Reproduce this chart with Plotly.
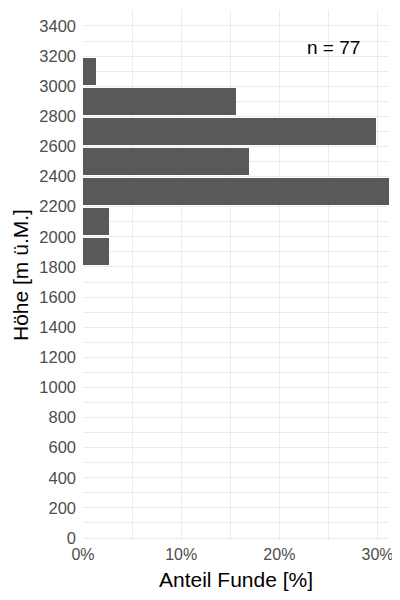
import plotly.graph_objects as go

# Höhenklassen (Klassenmitte, m ü.M.) und Anzahl Funde je Klasse
bin_centers = [1900, 2100, 2300, 2500, 2700, 2900, 3100]
counts = [2, 2, 24, 13, 23, 12, 1]
n_total = 77

y_ticks = list(range(0, 3401, 200))
x_ticks = [0, 10, 20, 30]
x_tick_labels = ["0%", "10%", "20%", "30%"]

share = [c / n_total * 100 for c in counts]

GRID = "#EBEBEB"
TICK_TXT = "#4D4D4D"

fig = go.Figure()
fig.add_trace(go.Bar(
    x=share,
    y=bin_centers,
    orientation="h",
    width=180,
    marker=dict(color="#595959", line=dict(width=0)),
    hovertemplate="%{y} m: %{x:.1f}%<extra></extra>",
))

fig.add_annotation(
    x=25.5, y=3255, text=f"n = {n_total}", showarrow=False,
    font=dict(size=19, color="black"),
)

# Achsentitel als Annotationen, damit die Ränder fix bleiben
fig.add_annotation(
    xref="paper", yref="paper", x=0.5, y=0, yshift=-39,
    text="Anteil Funde [%]", showarrow=False,
    font=dict(size=21, color="black"), yanchor="middle",
)
fig.add_annotation(
    xref="paper", yref="paper", x=0, y=0.5, xshift=-63,
    text="Höhe [m ü.M.]", showarrow=False, textangle=-90,
    font=dict(size=21, color="black"), xanchor="center",
)

# page body adds an 8px offset, margins compensate for it
fig.update_layout(
    width=400,
    height=600,
    margin=dict(l=75, r=19, t=2, b=68),
    plot_bgcolor="white",
    paper_bgcolor="white",
    showlegend=False,
    font=dict(family="Liberation Sans, Arial, sans-serif"),
    bargap=0,
)

fig.update_xaxes(
    range=[0, max(share)],
    tickvals=x_ticks,
    ticktext=x_tick_labels,
    tickfont=dict(size=16, color=TICK_TXT),
    ticklabelstandoff=3,
    showgrid=True, gridcolor=GRID, gridwidth=1.3,
    minor=dict(showgrid=True, dtick=5, gridcolor=GRID, gridwidth=0.7),
    zeroline=False,
    showline=False,
    ticks="",
    automargin=False,
)

fig.update_yaxes(
    range=[-13, 3506],
    tickvals=y_ticks,
    tickfont=dict(size=16.5, color=TICK_TXT),
    ticklabelstandoff=6,
    showgrid=True, gridcolor=GRID, gridwidth=1.3,
    minor=dict(showgrid=True, dtick=100, gridcolor=GRID, gridwidth=0.7),
    zeroline=False,
    showline=False,
    ticks="",
    automargin=False,
)

fig.write_html("out.html")
